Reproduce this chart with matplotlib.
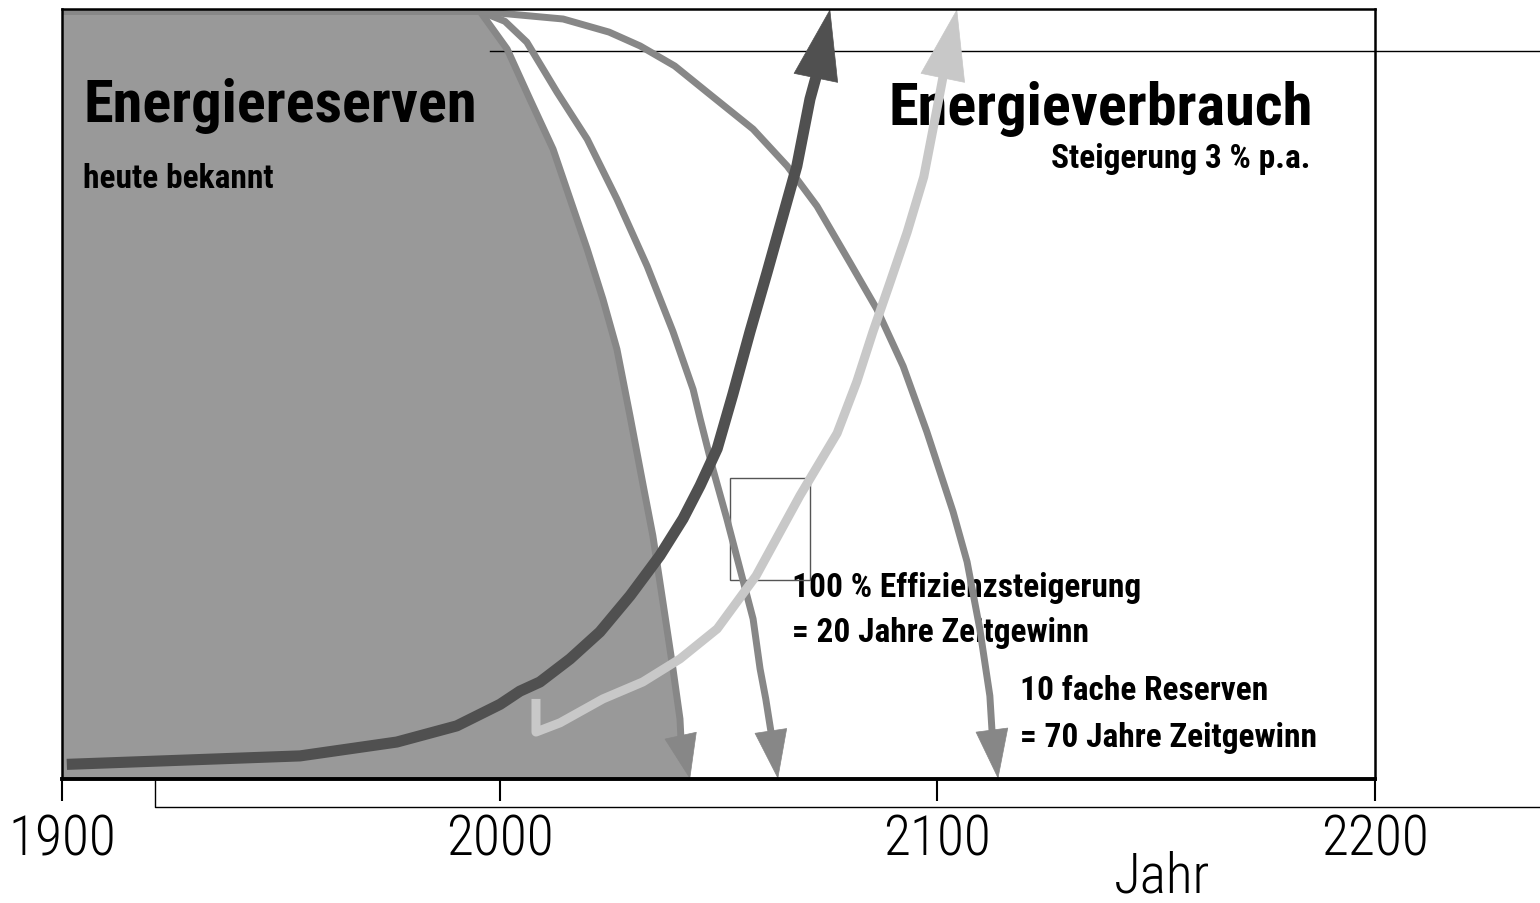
import matplotlib

matplotlib.use("Agg")
import matplotlib.pyplot as plt
import numpy as np
from matplotlib.patches import Rectangle

plt.rcParams["font.family"] = ["Roboto Condensed", "IBM Plex Sans Condensed", "DejaVu Sans"]

# --- data (year, relative level 0..100) ---
reserve_years = [1900.0, 1995.5, 2001.7, 2006.9, 2012.2, 2016.1, 2020.0, 2023.6,
                 2026.8, 2029.8, 2032.8, 2035.0, 2037.3, 2039.6, 2041.2, 2041.4, 2043.5]
reserve_vals = [99.7, 99.7, 94.8, 88.3, 81.8, 75.3, 68.8, 62.3,
                55.8, 47.1, 38.1, 31.6, 23.0, 14.3, 7.8, 5.5, 0.0]

eff_years = [1900.0, 1995.5, 2001.2, 2006.2, 2013.1, 2020.0, 2026.8, 2033.7, 2039.6,
             2044.2, 2045.8, 2048.7, 2051.9, 2054.9, 2057.9, 2059.5, 2060.8, 2062.0, 2063.6]
eff_vals = [99.7, 99.7, 98.4, 95.7, 89.2, 83.1, 75.3, 66.6, 58.1,
            50.6, 46.8, 40.3, 33.8, 27.3, 20.8, 14.3, 10.4, 6.1, 0.0]

tenfold_years = [1900.0, 1995.5, 2014.5, 2025.0, 2032.1, 2040.0, 2047.4, 2057.9, 2065.7,
                 2072.5, 2080.0, 2086.2, 2092.2, 2097.6, 2103.6, 2106.8, 2109.7, 2112.0,
                 2112.5, 2113.9]
tenfold_vals = [99.7, 99.7, 98.7, 97.0, 95.2, 92.6, 89.2, 84.4, 79.6,
                74.4, 67.1, 61.0, 53.6, 45.1, 34.7, 28.2, 19.5, 10.8,
                6.2, 0.0]

use_years = [1901.1, 1954.4, 1976.5, 1990.2, 2000.1, 2004.6, 2009.2, 2016.1, 2022.9,
             2029.8, 2036.6, 2041.9, 2045.8, 2049.7, 2053.3, 2057.2, 2061.1, 2064.7,
             2067.9, 2070.9, 2072.3, 2075.5]
use_vals = [1.9, 3.0, 4.8, 6.9, 9.7, 11.4, 12.6, 15.6, 19.1,
            23.8, 29.0, 33.8, 38.1, 42.9, 50.0, 58.1, 65.8, 73.1,
            79.6, 88.3, 91.2, 100.0]

use_eff_years = [2008.3, 2008.3, 2013.8, 2023.6, 2032.7, 2041.2, 2049.7, 2058.6,
                 2068.6, 2077.1, 2081.6, 2085.3, 2089.2, 2093.1, 2096.9, 2099.9,
                 2101.3, 2104.5]
use_eff_vals = [10.4, 6.1, 7.3, 10.4, 12.6, 15.6, 19.5, 26.4,
                36.8, 44.9, 51.6, 58.1, 64.5, 71.0, 78.2, 87.0,
                91.2, 100.0]

tick_years = [1900, 2000, 2100, 2200]

FILL = "#999999"
GRAY = "#878787"
DARK = "#505050"
LIGHT = "#c8c8c8"

fig = plt.figure(figsize=(15.4, 9.04), dpi=100)
ax = fig.add_axes([62 / 1540, 124 / 904, 1313 / 1540, 770 / 904])
ax.set_xlim(1900, 2200)
ax.set_ylim(0, 100)


def arrow_head(x0, y0, x1, y1, color, half_width_pt):
    # head spanning exactly from (x0, y0) to the tip (x1, y1)
    p0 = ax.transData.transform((x0, y0))
    p1 = ax.transData.transform((x1, y1))
    length_pt = np.hypot(*(p1 - p0)) * 72 / fig.dpi
    ax.annotate(
        "",
        xy=(x1, y1),
        xytext=(x0, y0),
        arrowprops=dict(
            arrowstyle=f"-|>,head_length={length_pt:.1f},head_width={half_width_pt}",
            mutation_scale=1,
            color=color,
            lw=0.5,
            shrinkA=0,
            shrinkB=0,
        ),
        zorder=4,
    )


def curve_with_arrow(xs, ys, color, lw, half_width_pt, z):
    ax.plot(xs[:-1], ys[:-1], color=color, lw=lw, solid_joinstyle="round",
            solid_capstyle="butt", zorder=z)
    arrow_head(xs[-2], ys[-2], xs[-1], ys[-1], color, half_width_pt)


# reserves (shaded)
ax.fill_between(reserve_years, reserve_vals, 0, color=FILL, lw=0, zorder=1)

# texts sit under the curves
big = dict(fontsize=43.5, fontweight="bold", va="baseline", zorder=2)
small = dict(fontsize=24, fontweight="bold", va="baseline", zorder=2)
note = dict(fontsize=24, fontweight="bold", va="baseline", zorder=2)
ax.text(0.016, 0.8545, "Energiereserven", transform=ax.transAxes, ha="left", **big)
ax.text(0.016, 0.769, "heute bekannt", transform=ax.transAxes, ha="left", **small)
ax.text(0.9528, 0.8506, "Energieverbrauch", transform=ax.transAxes, ha="right", **big)
ax.text(0.9505, 0.7948, "Steigerung 3 % p.a.", transform=ax.transAxes, ha="right", **small)
ax.text(0.556, 0.2377, "100 % Effizienzsteigerung", transform=ax.transAxes, **note)
ax.text(0.556, 0.1792, "= 20 Jahre Zeitgewinn", transform=ax.transAxes, **note)
ax.text(0.7296, 0.1039, "10 fache Reserven", transform=ax.transAxes, **note)
ax.text(0.7296, 0.0429, "= 70 Jahre Zeitgewinn", transform=ax.transAxes, **note)

# small leftover frame
ax.add_patch(Rectangle((2052.6, 25.8), 18.3, 13.3, fill=False, ec="#555555",
                       lw=1, zorder=3))

# reserve curves
curve_with_arrow(reserve_years, reserve_vals, GRAY, 5, 11.5, 3)
curve_with_arrow(eff_years, eff_vals, GRAY, 5, 11.5, 3)
curve_with_arrow(tenfold_years, tenfold_vals, GRAY, 5, 11.5, 3)

# consumption curves
curve_with_arrow(use_years, use_vals, DARK, 8, 16, 5)
curve_with_arrow(use_eff_years, use_eff_vals, LIGHT, 6.5, 16, 5)

# stray guide lines from the original slide
ax.plot([1997.8, 2237.7], [94.5, 94.5], color="black", lw=1, clip_on=False, zorder=2)
ax.plot([1921.2, 1921.2, 2237.7], [0, -3.64, -3.64], color="black", lw=1,
        clip_on=False, zorder=2)

# axes styling
for side in ["top", "left", "right"]:
    ax.spines[side].set_linewidth(1.8)
ax.spines["bottom"].set_linewidth(2.8)
for s in ax.spines.values():
    s.set_zorder(6)
ax.set_yticks([])
ax.set_xticks(tick_years)
ax.set_xticklabels([str(t) for t in tick_years], fontsize=40, fontweight="light")
ax.tick_params(axis="x", direction="out", length=16, width=1.5, pad=8)
ax.set_xlabel("Jahr", fontsize=40, fontweight="light", va="top")
ax.xaxis.set_label_coords(0.838, -0.092)

fig.savefig("out.png", dpi=100)
